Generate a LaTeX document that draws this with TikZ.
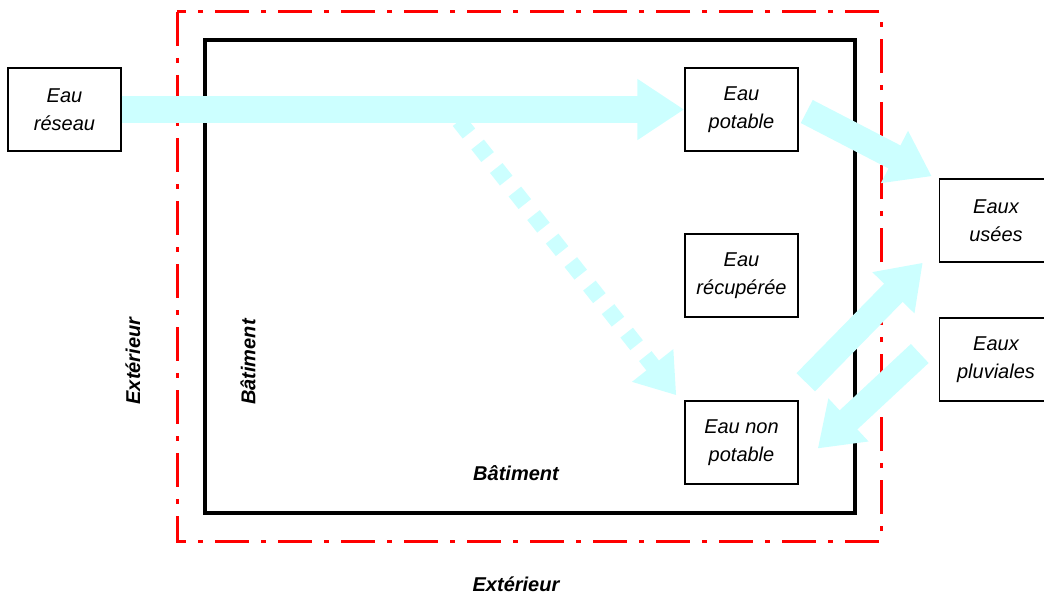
\documentclass[tikz,border=0pt]{standalone}
\usepackage{fontspec}
\setmainfont{Liberation Sans}
\usetikzlibrary{arrows.meta}
\definecolor{flowcyan}{RGB}{204,255,255}
\begin{document}
\begin{tikzpicture}[x=1pt, y=-1pt,
					waterbox/.style = {draw, line width=1.5pt, minimum width=113pt, minimum height=83pt, inner sep=0pt, align=center, font=\fontsize{20}{28}\selectfont\itshape},
					zonelabel/.style = {inner sep=0pt, font=\fontsize{20}{24}\selectfont\bfseries\itshape},
					flow/.style = {draw=flowcyan, line width=26pt, -{Triangle[width=56pt,length=42pt]}}
				]
				\useasboundingbox (0,0) rectangle (1044,594);
				% outside limit and building walls
				\draw[red, line width=3pt, dash pattern=on 34pt off 12pt on 5pt off 12pt] (177,12) rectangle (881,541);
				\draw[line width=3.5pt] (205,40) rectangle (855,513);
				% water boxes
				\node[waterbox] (reseau) at (64.5,109.5) {Eau\\réseau};
				\node[waterbox] (potable) at (741.5,109.5) {Eau\\potable};
				\node[waterbox] (recup) at (741.5,275.5) {Eau\\récupérée};
				\node[waterbox] (nonpotable) at (741.5,442.5) {Eau non\\potable};
				\node[waterbox] (usees) at (996,220.5) {Eaux\\usées};
				\node[waterbox] (pluviales) at (996,359.5) {Eaux\\pluviales};
				% zone names
				\node[zonelabel, rotate=90] (extside) at (133,361) {Extérieur};
				\node[zonelabel, rotate=90] (batside) at (248,362) {Bâtiment};
				\node[zonelabel] (batbottom) at (516,473) {Bâtiment};
				\node[zonelabel] (extbottom) at (516,584) {Extérieur};
				% flows
				\coordinate (branch) at (459,121);
				\draw[flow, line width=27pt, -{Triangle[width=58pt,length=47pt]}] (reseau.east) -- (potable.west);
				\draw[flow, line width=16pt, dash pattern=on 16pt off 14pt, -{Triangle[width=50pt,length=38pt]}] (branch) -- ([shift={(-8,-5)}]nonpotable.north west);
				\draw[flow] ([shift={(8,2)}]potable.east) -- ([shift={(-7,-2)}]usees.north west);
				\draw[flow] ([shift={(7,-18)}]nonpotable.north east) -- ([shift={(-16,0)}]usees.south west);
				\draw[flow] ([shift={(-19,-6)}]pluviales.west) -- ([shift={(19,6)}]nonpotable.east);
			\end{tikzpicture}
\end{document}
